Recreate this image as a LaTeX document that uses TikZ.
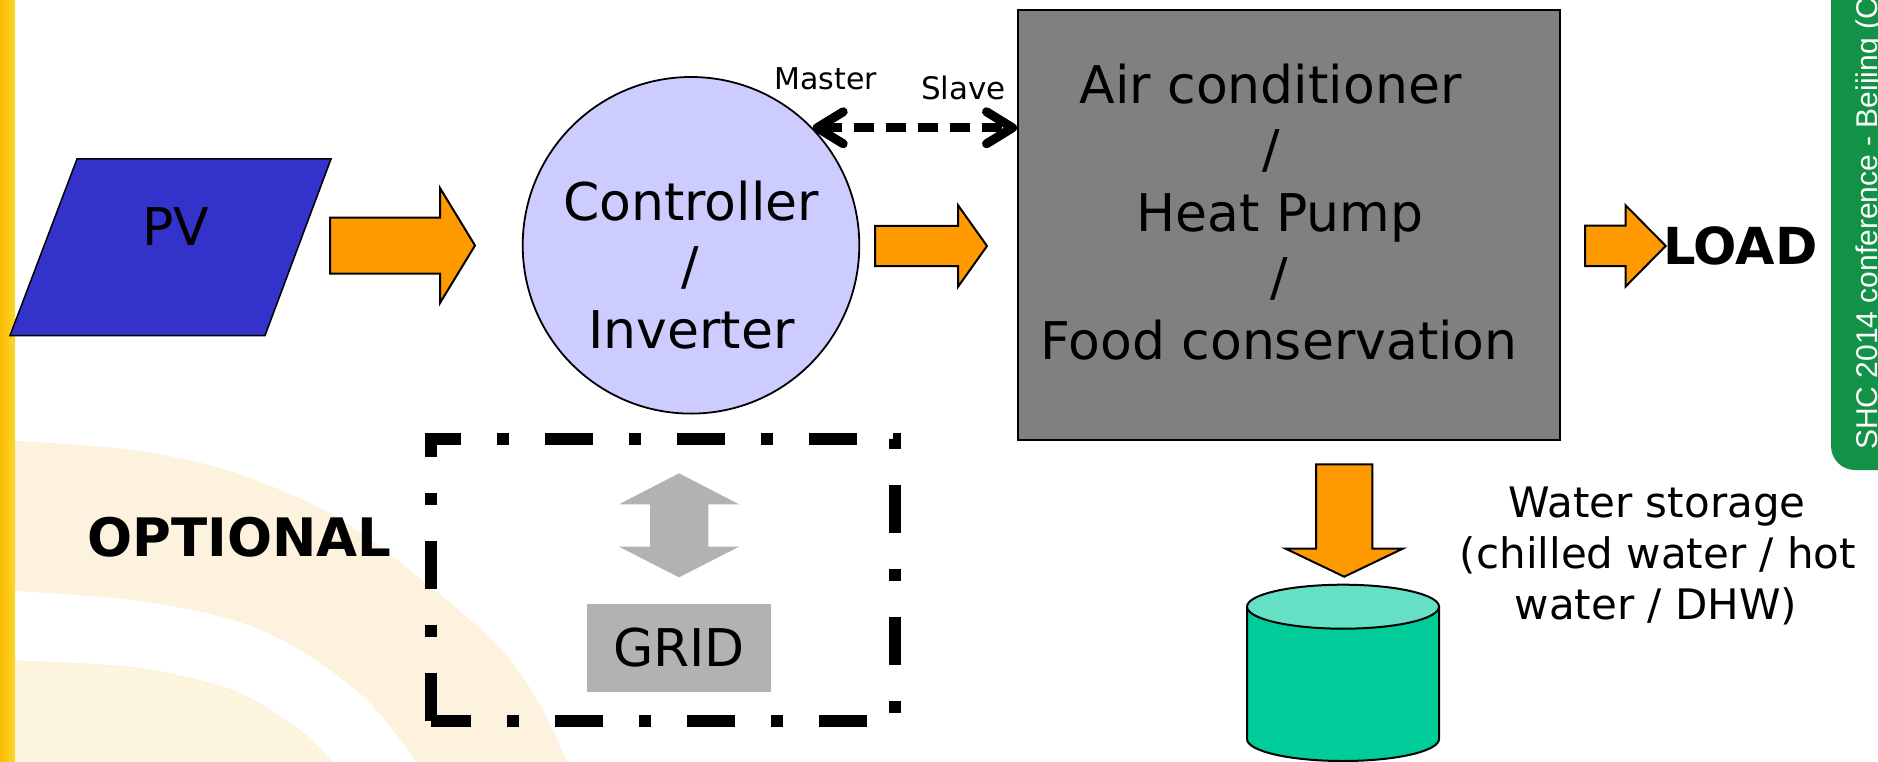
\documentclass[tikz,border=0pt]{standalone}
\usepackage{fontspec}
\setmainfont{DejaVu Sans}
\newfontfamily\tabfont{Liberation Sans}
\usetikzlibrary{arrows.meta}
\definecolor{pvblue}{RGB}{51,51,204}
\definecolor{ctrlfill}{RGB}{204,204,255}
\definecolor{unitgray}{RGB}{128,128,128}
\definecolor{arroworange}{RGB}{255,153,0}
\definecolor{gridgray}{RGB}{178,178,178}
\definecolor{tankbody}{RGB}{0,204,153}
\definecolor{tanktop}{RGB}{102,224,196}
\definecolor{tabgreen}{RGB}{18,146,70}
\definecolor{beige}{RGB}{252,242,221}
\definecolor{beigeB}{RGB}{253,245,222}
\definecolor{barA}{RGB}{250,188,0}
\definecolor{barB}{RGB}{250,214,50}
\newcommand{\fsz}[1]{\fontsize{#1}{#1}\selectfont}
\newcommand{\harrow}[6]{%
  \filldraw[blockarrow] (#1,#4-#5) -- (#2,#4-#5) -- (#2,#4-#6) -- (#3,#4)
    -- (#2,#4+#6) -- (#2,#4+#5) -- (#1,#4+#5) -- cycle;}
\begin{document}
\begin{tikzpicture}[x=1pt,y=-1pt,
  txt/.style={inner sep=0pt, outer sep=0pt, anchor=base, font=\fsz{52}},
  blockarrow/.style={fill=arroworange, draw=black, line width=2pt, line join=miter},
  optline/.style={line width=12pt, dash pattern=on 48pt off 36pt on 12pt off 36pt, line join=miter},
  msarrow/.style={line width=9pt, dash pattern=on 20pt off 12pt,
    arrows={Straight Barb[length=26pt,width=32pt,round]-Straight Barb[length=26pt,width=32pt,round]}},
  tabtext/.style={font=\tabfont\fsz{30}, text=white, inner sep=0pt}]
\useasboundingbox (0,0) rectangle (1878,762);
\clip (0,0) rectangle (1878,762);
\fill[white] (0,0) rectangle (1878,762);
% background arcs
\fill[beige] plot[smooth] coordinates {(0,440) (133,450) (233,472) (333,515) (420,578) (500,648) (540,705) (567,762)} -- (0,762) -- cycle;
\fill[white] plot[smooth] coordinates {(0,590) (133,600) (233,620) (300,650) (367,700) (417,762)}
  -- plot[smooth] coordinates {(333,762) (300,730) (233,690) (133,667) (0,660)} -- cycle;
\fill[beigeB] plot[smooth] coordinates {(0,662) (133,669) (233,692) (300,732) (331,762)} -- (0,762) -- cycle;
% left bar
\shade[left color=barA, right color=barB] (0,0) rectangle (15,762);
% green tab
\fill[tabgreen, rounded corners=24pt] (1831,-30) -- (1831,470) -- (1920,470) -- (1920,-30) -- cycle;
\node[tabtext, rotate=90, anchor=base west] (tab) at (1877.5,450) {SHC 2014 conference - Beijing (C};

% PV
\filldraw[fill=pvblue, draw=black, line width=1.5pt] (77,159) -- (331,159) -- (265,335.6) -- (10,335.6) -- cycle;
\node[txt] (pv) at (176,245.4) {PV};

% controller
\node[circle, draw=black, line width=1.8pt, fill=ctrlfill, minimum size=336.6pt, inner sep=0pt] (ctrl) at (691,245.3) {};
\node[txt] (ctrl1) at (691,220.7) {Controller};
\node[txt] (ctrl2) at (690,284.4) {/};
\node[txt] (ctrl3) at (691.5,348) {Inverter};

% unit
\node[rectangle, draw=black, line width=2pt, fill=unitgray, minimum width=542pt, minimum height=430pt, inner sep=0pt] (unit) at (1289,225) {};
\node[txt] (unit1) at (1270.5,104) {Air conditioner};
\node[txt] (unit2) at (1271,167.8) {/};
\node[txt] (unit3) at (1280,231) {Heat Pump};
\node[txt] (unit4) at (1279,295.2) {/};
\node[txt] (unit5) at (1279,359.3) {Food conservation};

% master / slave
\draw[msarrow] (ctrl.44) -- (ctrl.44 -| unit.west);
\node[txt, anchor=base west, font=\fsz{30}] (master) at (774.5,90) {Master};
\node[txt, anchor=base west, font=\fsz{31}] (slave) at (921,99.3) {Slave};

% orange arrows
\harrow{330}{440}{475}{245.5}{28}{57.5}
\harrow{875}{958}{987}{246}{20.2}{40.8}
\harrow{1585}{1625.7}{1665.7}{245.9}{20.2}{40.5}
\node[txt, anchor=base west, font=\bfseries\fsz{51}] (load) at (1663,264.3) {LOAD};

% down arrow and tank
\filldraw[blockarrow] (1316,464.3) -- (1372.3,464.3) -- (1372.3,548.7) -- (1402.7,548.7) -- (1344.2,576.7)
  -- (1285.7,548.7) -- (1316,548.7) -- cycle;
\filldraw[fill=tankbody, draw=black, line width=2pt] (1247,606.7) -- (1247,739)
  arc[start angle=180, end angle=0, x radius=96, y radius=22] -- (1439,606.7) -- cycle;
\filldraw[fill=tanktop, draw=black, line width=2pt] (1343,606.7) ellipse[x radius=96, y radius=22];
\coordinate (tank) at (1343,672);
\node[txt, font=\fsz{42}] (ws1) at (1657,517.3) {Water storage};
\node[txt, font=\fsz{42}] (ws2) at (1658,568.3) {(chilled water / hot};
\node[txt, font=\fsz{42}] (ws3) at (1656,619) {water / DHW)};

% optional grid
\draw[optline, dash phase=11.7pt] (424.7,439) -- (895,439) -- (895,721) -- (430.7,721);
\draw[optline, dash phase=0pt] (430.7,721) -- (430.7,439);
\node[txt, font=\bfseries\fsz{53}] (optional) at (239.5,556.7) {OPTIONAL};
\fill[gridgray] (679,473.3) -- (739,504.3) -- (708.3,504.3) -- (708.3,546.7) -- (739,546.7) -- (679,577.3)
  -- (619,546.7) -- (650,546.7) -- (650,504.3) -- (619,504.3) -- cycle;
\node[rectangle, fill=gridgray, minimum width=184.3pt, minimum height=87.7pt, inner sep=0pt, font=\fsz{52}] (grid) at (679,648) {GRID};
\end{tikzpicture}
\end{document}
